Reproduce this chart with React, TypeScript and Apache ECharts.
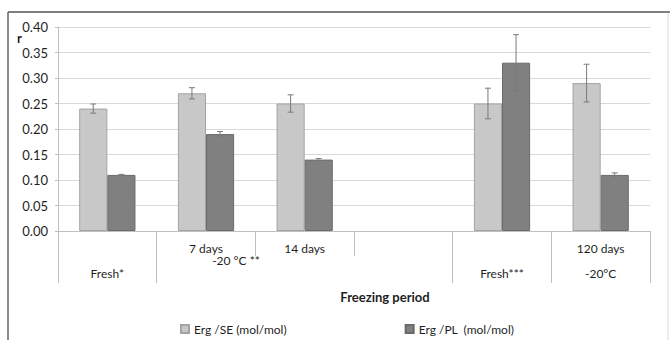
import React, { useEffect, useRef } from "react";
import * as echarts from "echarts";

const categories = ["Fresh*", "7 days", "14 days", "", "Fresh***", "120 days"];
const level1Labels = ["", "7 days", "14 days", "", "", "120 days"];
const level2Labels = ["Fresh*", "", "", "", "Fresh***", "-20°C"];
const seNames = "Erg /SE (mol/mol)";
const plNames = "Erg /PL  (mol/mol)";
const seValues = [0.24, 0.27, 0.25, null, 0.25, 0.29];
const plValues = [0.11, 0.19, 0.14, null, 0.33, 0.11];
const seErrors = [0.009, 0.011, 0.017, null, 0.03, 0.037];
const plErrors = [0.001, 0.005, 0.002, null, 0.055, 0.004];
const yTicks = { min: 0, max: 0.4, interval: 0.05 };

const FONT = "Lato";
const CAT_GAP = 0.43;

function errData(vals: (number | null)[], errs: (number | null)[]) {
  const out: any[] = [];
  vals.forEach((v, i) => {
    const e = errs[i];
    if (v != null && e != null) out.push([i, v - e, v + e]);
  });
  return out;
}

function errSeries(vals: (number | null)[], errs: (number | null)[], side: number) {
  return {
    type: "custom",
    z: 5,
    silent: true,
    encode: { x: 0, y: [1, 2] },
    data: errData(vals, errs),
    renderItem: (params: any, api: any) => {
      const idx = api.value(0);
      const lo = api.value(1);
      const hi = api.value(2);
      const band = api.size([1, 0])[0];
      const bw = (band * (1 - CAT_GAP)) / 2;
      const cx = api.coord([idx, 0])[0] + (side * bw) / 2;
      const yTop = api.coord([idx, hi])[1];
      const yBot = api.coord([idx, lo])[1];
      const cap = 3;
      const style = { stroke: "#7a7a7a", lineWidth: 1 };
      return {
        type: "group",
        children: [
          { type: "line", shape: { x1: cx, y1: yTop, x2: cx, y2: yBot }, style },
          { type: "line", shape: { x1: cx - cap, y1: yTop, x2: cx + cap, y2: yTop }, style },
          { type: "line", shape: { x1: cx - cap, y1: yBot, x2: cx + cap, y2: yBot }, style },
        ],
      };
    },
  };
}

export default function App() {
  const ref = useRef<HTMLDivElement>(null);
  useEffect(() => {
    if (!ref.current) return;
    const chart = echarts.init(ref.current, null, { renderer: "svg" });
    const textColor = "#1f1f1f";
    const longTicks = [0, 1, 4, 5];
    chart.setOption({
      animation: false,
      backgroundColor: "#ffffff",
      textStyle: { fontFamily: FONT },
      grid: { left: 58, right: 20, top: 27, bottom: 109, containLabel: false },
      legend: {
        left: 175,
        top: 318,
        itemWidth: 8,
        itemHeight: 8,
        itemGap: 118,
        icon: "rect",
        textStyle: { fontFamily: FONT, fontSize: 12, color: textColor },
        data: [seNames, plNames],
      },
      xAxis: [
        {
          type: "category",
          data: categories,
          position: "bottom",
          axisLine: { show: true, lineStyle: { color: "#bfbfbf", width: 1 } },
          axisTick: { show: true, interval: 0, length: 25, lineStyle: { color: "#bfbfbf" } },
          axisLabel: {
            interval: 0,
            margin: 11,
            fontFamily: FONT,
            fontSize: 12,
            color: textColor,
            formatter: (_v: string, i: number) => level1Labels[i],
          },
          splitLine: { show: false },
        },
        {
          type: "category",
          data: categories,
          position: "bottom",
          offset: 0,
          axisLine: { show: false },
          axisTick: {
            show: true,
            length: 52,
            interval: (i: number) => longTicks.indexOf(i) >= 0,
            lineStyle: { color: "#bfbfbf" },
          },
          axisLabel: {
            interval: 0,
            margin: 36,
            fontFamily: FONT,
            fontSize: 12,
            color: textColor,
            formatter: (_v: string, i: number) => level2Labels[i],
          },
          splitLine: { show: false },
        },
      ],
      yAxis: {
        type: "value",
        min: yTicks.min,
        max: yTicks.max,
        interval: yTicks.interval,
        axisLine: { show: true, lineStyle: { color: "#bfbfbf" } },
        axisTick: { show: true, length: 3, lineStyle: { color: "#bfbfbf" } },
        axisLabel: {
          margin: 10,
          fontFamily: FONT,
          fontSize: 13,
          color: textColor,
          formatter: (v: number) => v.toFixed(2),
        },
        splitLine: { show: true, lineStyle: { color: "#d9d9d9", width: 1 } },
      },
      series: [
        {
          name: seNames,
          type: "bar",
          data: seValues,
          barGap: "0%",
          barCategoryGap: CAT_GAP * 100 + "%",
          itemStyle: { color: "#c8c8c8", borderColor: "#a3a3a3", borderWidth: 1 },
        },
        {
          name: plNames,
          type: "bar",
          data: plValues,
          barGap: "0%",
          barCategoryGap: CAT_GAP * 100 + "%",
          itemStyle: { color: "#808080", borderColor: "#6a6a6a", borderWidth: 1 },
        },
        errSeries(seValues, seErrors, -1),
        errSeries(plValues, plErrors, 1),
      ],
      graphic: [
        { type: "rect", shape: { x: 8, y: 12, width: 660, height: 330 }, style: { fill: "none", stroke: "#d8d8d8", lineWidth: 1 }, silent: true },
        { type: "line", shape: { x1: 8, y1: 12, x2: 670, y2: 12 }, style: { stroke: "#5a5a5a", lineWidth: 1.5 }, silent: true },
        { type: "line", shape: { x1: 8, y1: 12, x2: 8, y2: 340 }, style: { stroke: "#6a6a6a", lineWidth: 1.5 }, silent: true },
        {
          type: "text",
          left: 17,
          top: 31,
          style: { text: "r", fontFamily: FONT, fontSize: 13, fontWeight: "bold", fill: textColor },
        },
        {
          type: "text",
          x: 236,
          y: 260,
          style: { text: "-20 °C **", fontFamily: FONT, fontSize: 12, fill: textColor, align: "center", verticalAlign: "middle" },
        },
        {
          type: "text",
          x: 385,
          y: 297,
          style: { text: "Freezing period", fontFamily: FONT, fontSize: 13, fontWeight: "bold", fill: textColor, align: "center", verticalAlign: "middle" },
        },
      ],
    });
    return () => chart.dispose();
  }, []);
  return (
    <div
      ref={ref}
      style={{ position: "fixed", left: 0, top: 0, width: 670, height: 340 }}
    />
  );
}
